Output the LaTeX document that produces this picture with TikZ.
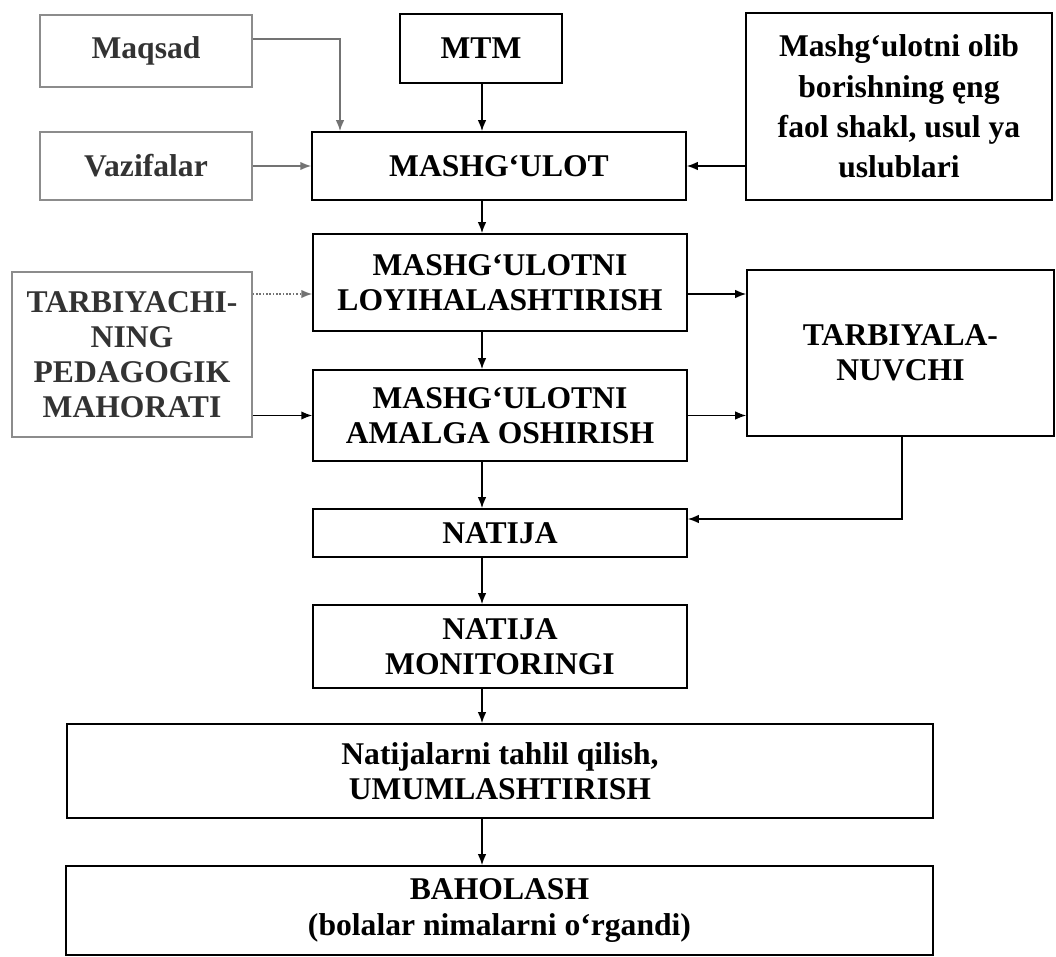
\documentclass[tikz,border=0pt]{standalone}
\usepackage{fontspec}
\setmainfont{Liberation Serif}
\usetikzlibrary{arrows.meta}

\begin{document}
\begin{tikzpicture}[x=0.02cm, y=-0.02cm, line width=0.9pt,
        font=\bfseries\fontsize{18}{20}\selectfont,
        box/.style={rectangle, draw=black, inner sep=0pt, align=center},
        faded/.style={box, draw=black!45, text=black!80},
        arr/.style={-{Latex[length=2.2mm, width=1.7mm]}},
        farr/.style={arr, draw=black!55}]
        \useasboundingbox (0,0) rectangle (1056,957);
        \coordinate (axis) at (482,0);
        \node(101) at (146,51) [faded, minimum width=4.24cm, minimum height=1.44cm] {Maqsad};
        \node(102) at (146,166) [faded, minimum width=4.24cm, minimum height=1.36cm] {Vazifalar};
        \node(103) at (481,48.5) [box, minimum width=3.24cm, minimum height=1.38cm] {MTM};
        \node(104) at (899,106.5) [box, minimum width=6.12cm, minimum height=3.74cm, font=\bfseries\fontsize{18}{23}\selectfont] {Mashg‘ulotni olib\\ borishning ęng\\ faol shakl, usul ya\\ uslublari};
        \node(111) at (499,166) [box, minimum width=7.48cm, minimum height=1.36cm] {MASHG‘ULOT};
        \coordinate (c1) at (340,39);
        \draw [farr] (101.east |- c1) -- (c1) -- (111.north -| c1);
        \draw [arr] (103.south -| axis) -- (111.north -| axis);
        \draw [farr] (102) -- (111);
        \draw [arr] (104.west |- 111) -- (111.east);
        \node(121) at (132,354.5) [faded, minimum width=4.8cm, minimum height=3.3cm] {TARBIYACHI-\\ NING\\ PEDAGOGIK\\ MAHORATI};
        \node(122) at (500,282.5) [box, minimum width=7.48cm, minimum height=1.94cm] {MASHG‘ULOTNI\\ LOYIHALASHTIRISH};
        \node(123) at (500,415.5) [box, minimum width=7.48cm, minimum height=1.82cm] {MASHG‘ULOTNI\\ AMALGA OSHIRISH};
        \node(124) at (900.5,353) [box, minimum width=6.14cm, minimum height=3.32cm] {TARBIYALA-\\ NUVCHI};
        \coordinate (r1) at (0,294);
        \draw [arr] (111.south -| axis) -- (122.north -| axis);
        \draw [arr] (122.south -| axis) -- (123.north -| axis);
        \draw [farr, densely dotted] (121.east |- r1) -- (122.west |- r1);
        \draw [arr] (121.east |- 123) -- (123.west);
        \draw [arr] (122.east |- r1) -- (124.west |- r1);
        \draw [arr] (123.east) -- (124.west |- 123);
        \node(131) at (500,533) [box, minimum width=7.48cm, minimum height=0.96cm] {NATIJA};
        \node(132) at (500,646.5) [box, minimum width=7.48cm, minimum height=1.66cm] {NATIJA\\ MONITORINGI};
        \coordinate (c2) at (902,519);
        \draw [arr] (123.south -| axis) -- (131.north -| axis);
        \draw [arr] (124.south -| c2) -- (c2) -- (131.east |- c2);
        \draw [arr] (131.south -| axis) -- (132.north -| axis);
        \node(141) at (500,771) [box, minimum width=17.32cm, minimum height=1.88cm] {Natijalarni tahlil qilish,\\ UMUMLASHTIRISH};
        \node(142) at (499.5,910.5) [box, minimum width=17.34cm, minimum height=1.78cm] {BAHOLASH\\ (bolalar nimalarni o‘rgandi)};
        \draw [arr] (132.south -| axis) -- (141.north -| axis);
        \draw [arr] (141.south -| axis) -- (142.north -| axis);
    \end{tikzpicture}
\end{document}
